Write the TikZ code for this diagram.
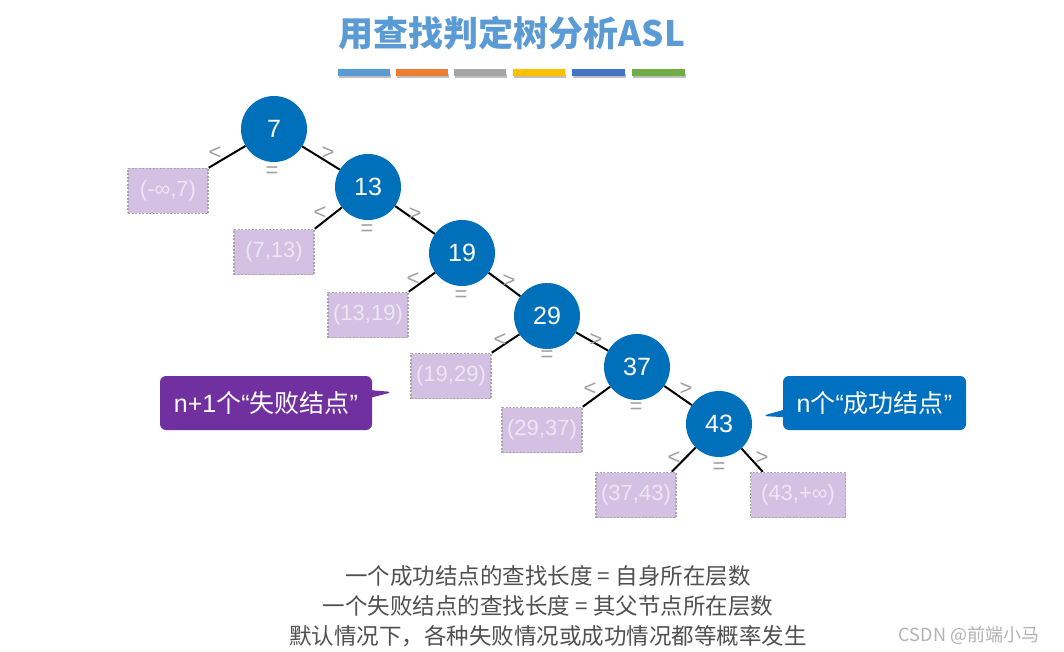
\documentclass[tikz,border=0pt]{standalone}
\usepackage{fontspec}
\setmainfont{Liberation Sans}
\newfontfamily\cjk{Noto Sans CJK SC}
\newfontfamily\lat{Liberation Sans}
\usetikzlibrary{calc,shapes.callouts,shadows}
\definecolor{nodeblue}{HTML}{0070BA}
\definecolor{titleblue}{HTML}{5B9BD5}
\definecolor{boxfill}{HTML}{D4C0E2}
\definecolor{boxtext}{HTML}{EEE6F4}
\definecolor{boxborder}{HTML}{A8A8A8}
\definecolor{calloutpurple}{HTML}{7030A0}
\definecolor{calloutblue}{HTML}{0070C0}
\definecolor{signgray}{HTML}{A0A0A0}
\definecolor{textgray}{HTML}{505050}
\begin{document}
\begin{tikzpicture}[x=1pt,y=-1pt,
  tnode/.style={circle,fill=nodeblue,minimum size=66pt,inner sep=0pt,text=white,font=\fontsize{25}{27}\selectfont},
  fbox/.style={rectangle,fill=boxfill,draw=boxborder,dashed,dash pattern=on 2pt off 1.5pt,line width=1.5pt,minimum width=80pt,minimum height=45pt,inner sep=0pt,text=boxtext,font=\fontsize{22}{24}\selectfont},
  edge/.style={line width=2pt,black},
  sign/.style={text=signgray,font=\fontsize{22}{24}\selectfont,inner sep=0pt},
  bottomtext/.style={text=textgray,font=\cjk\fontsize{22.5}{25}\selectfont,inner sep=0pt},
  callout/.style={rectangle callout,rounded corners=6pt,text=white,font=\cjk\fontsize{25}{28}\selectfont,inner sep=0pt}
]
\useasboundingbox[fill=white] (0,0) rectangle (1064,652);
% title
\node[text=titleblue,font=\cjk\bfseries\fontsize{35}{38}\selectfont,inner sep=0pt] (title) at (512,33) {用查找判定树分析ASL};
% bars
\foreach \xa/\xb/\c [count=\i] in {338/390/5B9BD5,396/448/ED7D31,454/506/A5A5A5,513/565/FFC000,572/625/4472C4,632/685/70AD47}{
  \definecolor{barc}{HTML}{\c}
  \coordinate (bs\i) at (\xa,72.5);
  \coordinate (be\i) at (\xb,72.5);
  \fill[black!25] ($(bs\i)+(1,2)$) rectangle ($(be\i)+(1,6)$);
  \fill[barc] ($(bs\i)+(0,-3.5)$) rectangle ($(be\i)+(0,3.5)$);
}
% failure boxes
\node[fbox] (b1) at (168,191) {(-∞,7)};
\node[fbox] (b2) at (274,252) {(7,13)};
\node[fbox] (b3) at (368,315) {(13,19)};
\node[fbox] (b4) at (451,376) {(19,29)};
\node[fbox] (b5) at (542,430) {(29,37)};
\node[fbox] (b6) at (636,495) {(37,43)};
\node[fbox,minimum width=95pt] (b7) at (798,495) {(43,+∞)};
% tree nodes
\node[tnode] (n1) at (274,129) {7};
\node[tnode] (n2) at (368,187) {13};
\node[tnode] (n3) at (462,253) {19};
\node[tnode] (n4) at (547,316) {29};
\node[tnode] (n5) at (637,367) {37};
\node[tnode] (n6) at (719,424) {43};
% edges
\draw[edge] (n1) -- (b1.north east);
\draw[edge] (n1) -- (n2);
\draw[edge] (n2) -- (b2.north east);
\draw[edge] (n2) -- (n3);
\draw[edge] (n3) -- (b3.north east);
\draw[edge] (n3) -- (n4);
\draw[edge] (n4) -- (b4.north east);
\draw[edge] (n4) -- (n5);
\draw[edge] (n5) -- (b5.north east);
\draw[edge] (n5) -- (n6);
\draw[edge] (n6) -- ($(b6.north east)+(-5,0)$);
\coordinate (b7t) at ($(b7.north west)+(13,0)$);
\draw[edge] (n6) -- (b7t);
% signs
\node[sign] (l1) at (215,153) {<};
\node[sign] (g1) at (328,153) {>};
\node[sign] (e1) at (272,172) {=};
\node[sign] (l2) at (320,213) {<};
\node[sign] (g2) at (415,214) {>};
\node[sign] (e2) at (367,230) {=};
\node[sign] (l3) at (413,279) {<};
\node[sign] (g3) at (509,281) {>};
\node[sign] (e3) at (461,296) {=};
\node[sign] (l4) at (500,340) {<};
\node[sign] (g4) at (596,340) {>};
\node[sign] (e4) at (547,356) {=};
\node[sign] (l5) at (590,389) {<};
\node[sign] (g5) at (686,389) {>};
\node[sign] (e5) at (636,408) {=};
\node[sign] (l6) at (674,458) {<};
\node[sign] (g6) at (762,458) {>};
\node[sign] (e6) at (719,468) {=};
% callouts
\node[callout,fill=calloutpurple,minimum width=212pt,minimum height=54pt,callout absolute pointer={(393,392)}] (cfail) at (266,403) {{\lat n+1}个{\lat “}失败结点{\lat ”}};
\node[callout,fill=calloutblue,minimum width=183pt,minimum height=54pt,callout absolute pointer={(762,416)}] (csucc) at (874.5,403) {{\lat n}个{\lat “}成功结点{\lat ”}};
% bottom text
\node[bottomtext] (t1) at (548,576) {一个成功结点的查找长度 = 自身所在层数};
\node[bottomtext] (t2) at (548,606) {一个失败结点的查找长度 = 其父节点所在层数};
\node[bottomtext] (t3) at (548,636) {默认情况下，各种失败情况或成功情况都等概率发生};
% watermark
\node[text=black!30,font=\cjk\fontsize{18}{20}\selectfont,inner sep=0pt] (wm) at (969,635) {CSDN @前端小马};
\end{tikzpicture}
\end{document}
